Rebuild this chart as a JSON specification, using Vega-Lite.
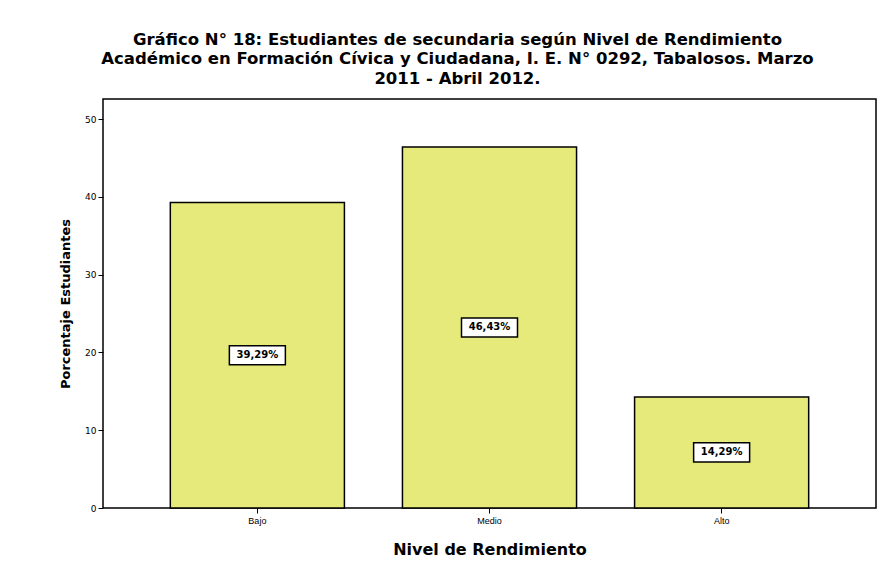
{
  "$schema": "https://vega.github.io/schema/vega-lite/v6.json",
  "autosize": {"type": "none"},
  "width": 773,
  "height": 409,
  "padding": {"left": 103, "top": 99, "right": 12, "bottom": 70},
  "background": "white",
  "title": {
    "text": ["Gráfico N° 18: Estudiantes de secundaria según Nivel de Rendimiento", "Académico en Formación Cívica y Ciudadana,  I. E. N° 0292, Tabalosos. Marzo", "2011 - Abril 2012."],
    "font": "DejaVu Sans",
    "fontSize": 16.5,
    "fontWeight": "bold",
    "lineHeight": 19.5,
    "color": "black",
    "anchor": "middle",
    "frame": "group",
    "dx": -32,
    "offset": 12
  },
  "data": {
    "values": [
      {"nivel": "Bajo", "pct": 39.29, "label": "39,29%"},
      {"nivel": "Medio", "pct": 46.43, "label": "46,43%"},
      {"nivel": "Alto", "pct": 14.29, "label": "14,29%"}
    ]
  },
  "transform": [{"calculate": "datum.pct / 2", "as": "mid"}],
  "encoding": {
    "x": {
      "field": "nivel",
      "type": "nominal",
      "sort": ["Bajo", "Medio", "Alto"],
      "scale": {"paddingInner": 0.25, "paddingOuter": 0.29},
      "axis": {
        "title": "Nivel de Rendimiento",
        "titleFont": "DejaVu Sans",
        "titleFontSize": 16,
        "titleFontWeight": "bold",
        "titleColor": "black",
        "titlePadding": 16,
        "labelFont": "Liberation Sans",
        "labelFontSize": 9,
        "labelColor": "black",
        "labelAngle": 0,
        "labelPadding": 3,
        "tickSize": 5,
        "tickColor": "black",
        "domain": false
      }
    }
  },
  "layer": [
    {
      "mark": {"type": "bar", "fill": "#E6EA7A", "stroke": "black", "strokeWidth": 1.5},
      "encoding": {
        "y": {
          "field": "pct",
          "type": "quantitative",
          "scale": {"domain": [0, 52.6], "nice": false},
          "axis": {
            "title": "Porcentaje Estudiantes",
            "titleFont": "DejaVu Sans",
            "titleFontSize": 13,
            "titleFontWeight": "bold",
            "titleColor": "black",
            "titlePadding": 12,
            "labelFont": "DejaVu Sans",
            "labelFontSize": 9,
            "labelColor": "black",
            "labelPadding": 2,
            "values": [0, 10, 20, 30, 40, 50],
            "tickSize": 5,
            "tickColor": "black",
            "grid": false,
            "domain": false
          }
        }
      }
    },
    {
      "mark": {"type": "point", "shape": "M-1.75,-0.6H1.75V0.6H-1.75Z", "size": 1024, "filled": true, "fill": "white", "stroke": "black", "strokeWidth": 1.5, "opacity": 1},
      "encoding": {"y": {"field": "mid", "type": "quantitative"}}
    },
    {
      "mark": {"type": "text", "font": "DejaVu Sans", "fontSize": 10, "fontWeight": "bold", "color": "black"},
      "encoding": {
        "y": {"field": "mid", "type": "quantitative"},
        "text": {"field": "label"}
      }
    }
  ],
  "config": {
    "view": {"stroke": "black", "strokeWidth": 1.5, "fill": "white"}
  }
}
